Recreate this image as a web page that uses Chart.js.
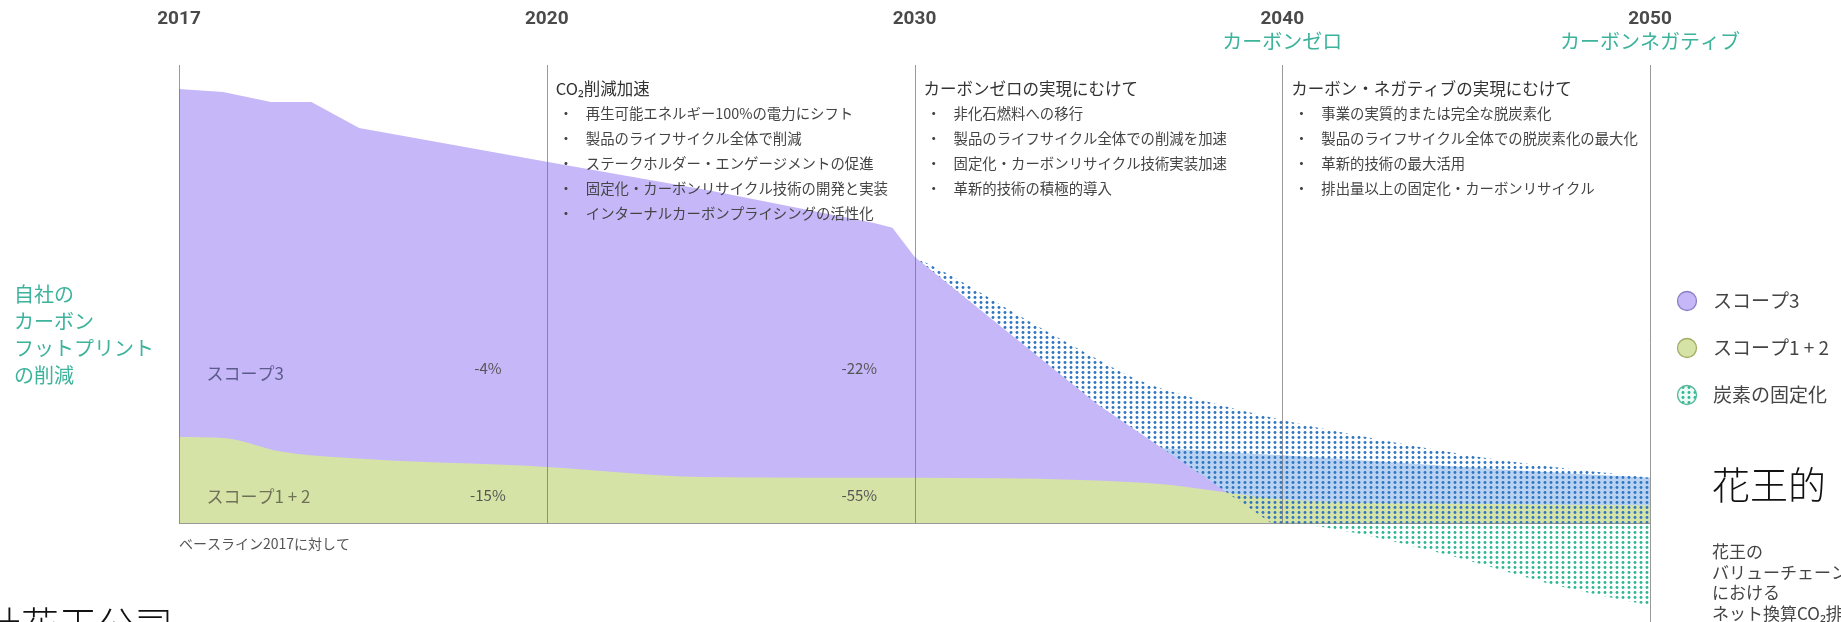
<!DOCTYPE html>
<html><head><meta charset="utf-8">
<script src="https://cdn.jsdelivr.net/npm/chart.js@4/dist/chart.umd.min.js"></script>
<style>html,body{margin:0;padding:0;background:#fff;overflow:hidden}canvas{display:block}</style>
</head><body>
<canvas id="c" width="1841" height="622"></canvas>
<script>
// ---- timeline ticks (position 0..4) ----
const yearLabels = ['2017', '2020', '2030', '2040', '2050'];
const milestoneLabels = ['', '', '', 'カーボンゼロ', 'カーボンネガティブ'];

// ---- series (x = timeline position, y = emission index, 2017 total = 100) ----
const scope3X = [0, 0.12, 0.25, 0.36, 0.49, 1.0, 1.45, 1.89, 1.94, 2.0, 2.23, 2.5, 2.78, 2.87, 2.97];
const scope3Y = [100, 99.3, 97, 97, 91, 83.2, 76.5, 69.1, 68, 61.3, 45.6, 27.2, 11.1, 5.8, 0];

const scope12X = [0, 0.12, 0.28, 0.45, 1.0, 1.42, 2.0, 2.45, 2.69, 2.85, 3.0, 3.5, 4.0];
const scope12Y = [19.8, 19.6, 16.4, 15.0, 12.9, 10.6, 10.4, 9.9, 8.8, 7.0, 5.4, 4.4, 4.0];

const residualX = [2.6, 2.8, 3.0, 3.3, 3.6, 4.0];
const residualY = [17.6, 16.6, 15.6, 14.0, 12.3, 10.4];

const fixTopX = [2.0, 2.12, 2.29, 2.45, 2.61, 2.78, 3.0, 3.27, 3.59, 4.0];
const fixTopY = [61.3, 56, 47.5, 39.9, 32.9, 28.3, 23.7, 19.1, 14.5, 10.4];

const fixBaseX = [2.0, 2.23, 2.5, 2.78, 2.87, 2.97, 4.0];
const fixBaseY = [61.3, 45.6, 27.2, 11.1, 5.8, 0, 0];

const fixNegX = [2.97, 3.1, 3.43, 3.76, 4.0];
const fixNegY = [0, -0.8, -6.9, -14.7, -19.0];

// ---- texts ----
const seriesNames = ['スコープ3', 'スコープ1 + 2', '炭素の固定化'];
const blocks = [
  {at: 1, title: 'CO₂削減加速', items: ['再生可能エネルギー100%の電力にシフト', '製品のライフサイクル全体で削減', 'ステークホルダー・エンゲージメントの促進', '固定化・カーボンリサイクル技術の開発と実装', 'インターナルカーボンプライシングの活性化']},
  {at: 2, title: 'カーボンゼロの実現にむけて', items: ['非化石燃料への移行', '製品のライフサイクル全体での削減を加速', '固定化・カーボンリサイクル技術実装加速', '革新的技術の積極的導入']},
  {at: 3, title: 'カーボン・ネガティブの実現にむけて', items: ['事業の実質的または完全な脱炭素化', '製品のライフサイクル全体での脱炭素化の最大化', '革新的技術の最大活用', '排出量以上の固定化・カーボンリサイクル']}
];
const sideTitle = ['自社の', 'カーボン', 'フットプリント', 'の削減'];
const pctScope3 = ['-4%', '-22%'];
const pctScope12 = ['-15%', '-55%'];
const pctAt = [0.84, 1.85];

const JP = '"Noto Sans CJK JP", "Noto Sans", sans-serif';
const TEAL = '#3db39c';
const PURPLE = '#c6b8f8';
const GREEN = '#d6e3a6';
const LIGHTBLUE = '#b9d2f2';

function pts(xs, ys) { return xs.map((x, i) => ({x, y: ys[i]})); }
function dotPattern(dot, bg) {
  const c = document.createElement('canvas'); c.width = 6; c.height = 5;
  const g = c.getContext('2d');
  if (bg) { g.fillStyle = bg; g.fillRect(0, 0, 6, 5); }
  g.fillStyle = dot; g.beginPath(); g.arc(3, 2.5, 1.45, 0, Math.PI * 2); g.fill();
  return g.createPattern(c, 'repeat');
}
const bluePat = dotPattern('#2f76c2', null);
const tealPat = dotPattern('#2fb794', null);

const base = {borderWidth: 0, pointRadius: 0, pointHoverRadius: 0, tension: 0};

const annot = {
  id: 'annot',
  afterDatasetsDraw(chart) {
    const {ctx, chartArea, scales: {x, y}} = chart;
    const y0 = Math.round(y.getPixelForValue(0)) + 0.5;
    ctx.save();
    ctx.strokeStyle = 'rgba(110,110,110,0.7)';
    ctx.lineWidth = 1;
    yearLabels.forEach((_, i) => {
      const px = Math.round(x.getPixelForValue(i)) + 0.5;
      const bottom = i === yearLabels.length - 1 ? chart.height : y0;
      ctx.beginPath(); ctx.moveTo(px, chartArea.top); ctx.lineTo(px, bottom); ctx.stroke();
    });
    ctx.beginPath(); ctx.moveTo(x.getPixelForValue(0), y0); ctx.lineTo(x.getPixelForValue(4), y0); ctx.stroke();
    ctx.restore();
  },
  afterDraw(chart) {
    const {ctx, chartArea, scales: {x, y}} = chart;
    const top = chartArea.top;
    ctx.save();
    ctx.textBaseline = 'middle';
    // milestone labels
    ctx.fillStyle = TEAL; ctx.font = '20px ' + JP; ctx.textAlign = 'center';
    milestoneLabels.forEach((t, i) => { if (t) ctx.fillText(t, x.getPixelForValue(i), top - 24); });
    // text blocks
    ctx.textAlign = 'left';
    blocks.forEach(b => {
      const px = x.getPixelForValue(b.at);
      ctx.fillStyle = '#333'; ctx.font = '16.5px ' + JP;
      ctx.fillText(b.title, px + 9, top + 24);
      ctx.font = '14.4px ' + JP; ctx.fillStyle = '#444';
      b.items.forEach((t, j) => {
        const yy = top + 49 + j * 25;
        ctx.fillText('・', px + 12, yy);
        ctx.fillText(t, px + 39, yy);
      });
    });
    // side title
    ctx.fillStyle = TEAL; ctx.font = '20px ' + JP;
    sideTitle.forEach((t, j) => ctx.fillText(t, 14, 294 + j * 27));
    // in-chart labels
    const xl = x.getPixelForValue(0.075);
    ctx.font = '17px ' + JP;
    ctx.fillStyle = '#5d5b8c'; ctx.fillText(seriesNames[0], xl, y.getPixelForValue(34.5));
    ctx.fillStyle = '#6f7258'; ctx.fillText(seriesNames[1], xl, y.getPixelForValue(6.0));
    ctx.font = '15px ' + JP; ctx.fillStyle = '#555'; ctx.textAlign = 'center';
    pctAt.forEach((p, i) => {
      ctx.fillText(pctScope3[i], x.getPixelForValue(p), y.getPixelForValue(35.7));
      ctx.fillText(pctScope12[i], x.getPixelForValue(p), y.getPixelForValue(6.4));
    });
    ctx.textAlign = 'left'; ctx.font = '14px ' + JP; ctx.fillStyle = '#555';
    ctx.fillText('ベースライン2017に対して', x.getPixelForValue(0), y.getPixelForValue(0) + 21);
    // legend
    const lx = x.getPixelForValue(4) + 37;
    const fills = [PURPLE, GREEN, tealPat];
    const strokes = ['#8b80c4', '#a2ad66', '#55b896'];
    seriesNames.forEach((t, i) => {
      const ly = 301 + i * 47;
      ctx.beginPath(); ctx.arc(lx, ly, 9.5, 0, Math.PI * 2);
      ctx.fillStyle = i === 2 ? '#eefaf5' : fills[i]; ctx.fill();
      if (i === 2) { ctx.fillStyle = tealPat; ctx.fill(); }
      ctx.lineWidth = 1.3; ctx.strokeStyle = strokes[i]; ctx.stroke();
      ctx.fillStyle = '#444'; ctx.font = '19px ' + JP;
      ctx.fillText(t, lx + 26, ly);
    });
    // overlay captions
    ctx.fillStyle = '#111'; ctx.font = '300 38px ' + JP;
    ctx.fillText('花王的', 1712, 485);
    ctx.font = '17px ' + JP; ctx.fillStyle = '#444';
    ['花王の', 'バリューチェーン', 'における', 'ネット換算CO₂排出量'].forEach((t, j) => ctx.fillText(t, 1712, 552 + j * 20.5));
    ctx.fillStyle = '#111'; ctx.font = '300 38px ' + JP; ctx.textBaseline = 'alphabetic';
    ctx.fillText('社花王公司', -17, 639);
    ctx.restore();
  }
};

new Chart(document.getElementById('c'), {
  type: 'line',
  data: {
    datasets: [
      {...base, label: seriesNames[2] + '（マイナス）', data: pts(fixNegX, fixNegY), fill: 'origin', backgroundColor: tealPat, cubicInterpolationMode: 'monotone'},
      {...base, label: seriesNames[2], data: pts(fixTopX, fixTopY), fill: '+1', backgroundColor: bluePat, cubicInterpolationMode: 'monotone'},
      {...base, label: 'fixBase', data: pts(fixBaseX, fixBaseY), fill: false},
      {...base, label: seriesNames[1], data: pts(scope12X, scope12Y), fill: 'origin', backgroundColor: GREEN, cubicInterpolationMode: 'monotone'},
      {...base, label: seriesNames[0], data: pts(scope3X, scope3Y), fill: 'origin', backgroundColor: PURPLE},
      {...base, label: seriesNames[0] + '（残存）', data: pts(residualX, residualY), fill: 'origin', backgroundColor: LIGHTBLUE, cubicInterpolationMode: 'monotone'}
    ]
  },
  options: {
    responsive: false, animation: false, devicePixelRatio: 1,
    layout: {padding: {left: 179, right: 191, top: 0, bottom: 7}},
    plugins: {legend: {display: false}, tooltip: {enabled: false}},
    scales: {
      x: {
        type: 'linear', position: 'top', min: 0, max: 4,
        grid: {display: false, drawTicks: false}, border: {display: false},
        ticks: {stepSize: 1, autoSkip: false, padding: 34, color: '#4a4a4a',
          font: {family: 'Roboto, "DejaVu Sans", sans-serif', size: 19, weight: 'bold'},
          callback: v => yearLabels[v] ?? ''},
        afterFit: s => { s.height = 65; }
      },
      y: {display: false, min: -21.2, max: 105.5}
    }
  },
  plugins: [annot]
});
</script>
</body></html>
